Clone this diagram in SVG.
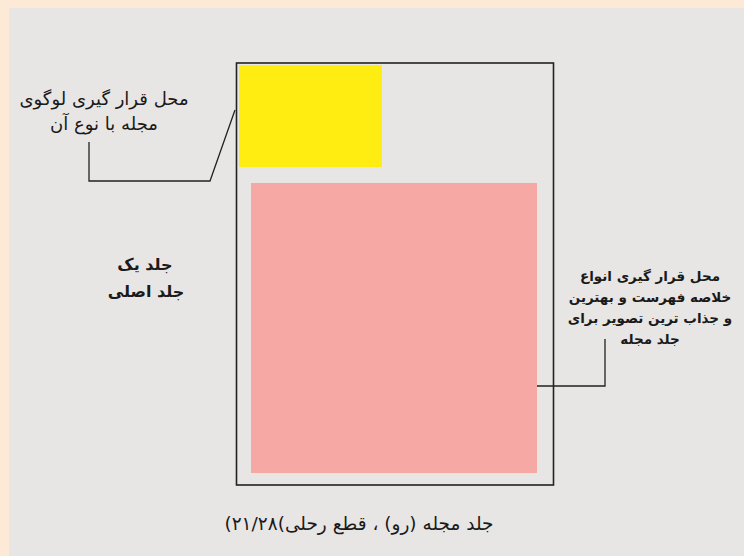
<svg xmlns="http://www.w3.org/2000/svg" width="744" height="556" viewBox="0 0 744 556">
<style>
.t{font-family:"DejaVu Sans","Liberation Sans",sans-serif;fill:#1a1a1a;direction:rtl;text-anchor:middle}
.n{font-size:18px}
.c{font-size:18.5px}
.b{font-size:16px;font-weight:bold}
.s{font-size:13.5px;font-weight:bold}
.ln{fill:none;stroke:#222;stroke-width:1.3}
</style>
<rect x="0" y="0" width="744" height="556" fill="#FCE9D6"/>
<rect x="9" y="8" width="735" height="548" fill="#E8E6E4"/>
<g id="frame"><rect x="236.5" y="63" width="317" height="422" fill="none" stroke="#222" stroke-width="1.6"/></g>
<g id="logo"><rect x="239" y="65" width="143" height="102" fill="#FFED11"/></g>
<g id="image"><rect x="251" y="183" width="286" height="290" fill="#F6A8A4"/></g>
<g id="connectors">
<polyline class="ln" points="235,110 210,181 89,181 89,142"/>
<polyline class="ln" points="537,386 605,386 605,339"/>
</g>
<g id="logo-label">
<text class="t n" x="104" y="105">محل قرار گیری لوگوی</text>
<text class="t n" x="104" y="130">مجله با نوع آن</text>
</g>
<g id="title">
<text class="t b" x="145" y="270">جلد یک</text>
<text class="t b" x="146" y="297">جلد اصلی</text>
</g>
<g id="image-label">
<text class="t s" x="650" y="281">محل قرار گیری  انواع</text>
<text class="t s" x="650" y="302">خلاصه فهرست و بهترین</text>
<text class="t s" x="650" y="323">و جذاب ترین تصویر برای</text>
<text class="t s" x="650" y="344">جلد مجله</text>
</g>
<g id="caption">
<text class="t c" x="359" y="530">جلد مجله (رو) ، قطع رحلی)۲۱/۲۸)</text>
</g>
</svg>
